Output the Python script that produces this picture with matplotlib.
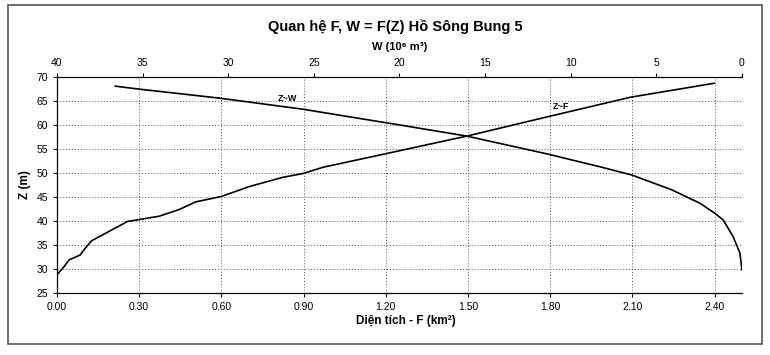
import matplotlib.pyplot as plt
from matplotlib.patches import Rectangle

plt.rcParams['font.family'] = ['Liberation Sans', 'DejaVu Sans']

# Z~F : dien tich (km2) theo cao trinh (m)
f_area = [0.00, 0.026, 0.044, 0.084, 0.107, 0.127, 0.166, 0.257, 0.373, 0.446,
          0.507, 0.599, 0.703, 0.824, 0.898, 0.971, 1.178, 1.496, 1.789, 2.094, 2.398]
z_f = [28.8, 30.5, 31.9, 32.9, 34.6, 35.9, 37.1, 39.9, 41.0, 42.4,
       44.0, 45.1, 47.2, 49.1, 49.9, 51.2, 53.75, 57.7, 61.7, 65.8, 68.7]

# Z~W : dung tich (10^6 m3) theo cao trinh (m)
w_vol = [36.6, 35.25, 30.5, 25.65, 19.97, 16.08, 11.4, 8.29, 6.44, 4.1, 2.45,
         1.58, 1.09, 0.51, 0.12, 0.0]
z_w = [68.1, 67.5, 65.6, 63.3, 60.0, 57.7, 54.0, 51.3, 49.6, 46.5, 43.7,
       41.6, 40.2, 36.7, 33.3, 29.8]

f_ticks = [0.0, 0.3, 0.6, 0.9, 1.2, 1.5, 1.8, 2.1, 2.4]
w_ticks = [40, 35, 30, 25, 20, 15, 10, 5, 0]
z_ticks = [25, 30, 35, 40, 45, 50, 55, 60, 65, 70]

fig = plt.figure(figsize=(7.7, 3.55), dpi=100)
fig.patches.append(Rectangle((0.011, 0.03), 0.978, 0.955, transform=fig.transFigure,
                             fill=False, edgecolor='#555555', linewidth=1.2))

ax = fig.add_axes([0.074, 0.1746, 0.8896, 0.6084])
ax.plot(f_area, z_f, color='black', linewidth=1.2)
ax.set_xlim(0, 2.5)
ax.set_ylim(25, 70)
ax.set_xticks(f_ticks)
ax.set_xticklabels(['%.2f' % v for v in f_ticks])
ax.set_yticks(z_ticks)
ax.grid(True, color='#555555', linestyle=(0, (1, 2)), linewidth=0.7)
ax.tick_params(labelsize=7.5, length=3, direction='out')
ax.spines['right'].set_visible(False)
ax.set_xlabel('Diện tích - F (km²)', fontsize=8.5, fontweight='bold', labelpad=1)
ax.xaxis.set_label_coords(0.51, -0.1)
ax.set_ylabel('Z (m)', fontsize=8.5, fontweight='bold', labelpad=4)

ax2 = ax.twiny()
ax2.plot(w_vol, z_w, color='black', linewidth=1.2)
ax2.set_xlim(40, 0)
ax2.set_xticks(w_ticks)
ax2.tick_params(labelsize=7.5, length=3, direction='out')
ax2.spines['right'].set_visible(False)
ax2.set_xlabel('W (10⁶ m³)', fontsize=8, fontweight='bold', labelpad=6)

ax.text(0.84, 65.5, 'Z~W', fontsize=6.5, fontweight='bold', ha='center', va='center')
ax.text(1.84, 63.8, 'Z~F', fontsize=6.5, fontweight='bold', ha='center', va='center')

fig.text(0.513, 0.925, 'Quan hệ F, W = F(Z) Hồ Sông Bung 5', fontsize=10.5,
         fontweight='bold', ha='center', va='center')

fig.savefig('out.png', dpi=100)
